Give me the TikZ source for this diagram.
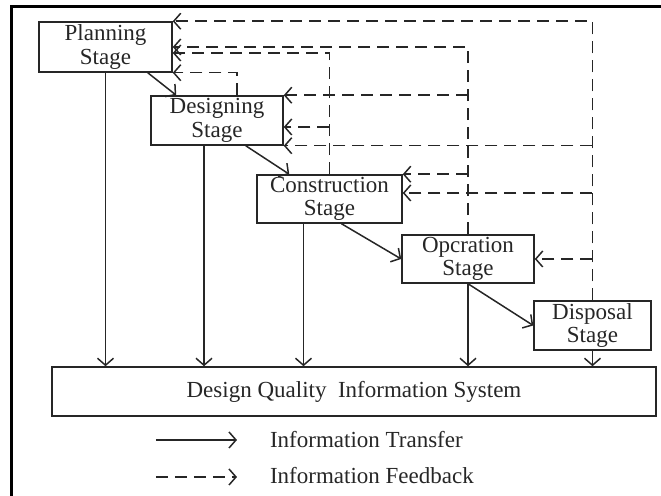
\documentclass[tikz,border=0pt]{standalone}
\usepackage{fontspec}
\setmainfont{Liberation Serif}
\usetikzlibrary{arrows.meta}

\begin{document}
\begin{tikzpicture}[x=0.5pt,y=-0.5pt,
    stage/.style={draw=black!85,line width=0.75pt,align=center,inner sep=1pt,text=black!85,font=\fontsize{11.5}{11.8}\selectfont},
    tr/.style={draw=black!85,line width=0.75pt,-{Straight Barb[length=3.5pt,width=8pt]}},
    fb/.style={tr,dash pattern=on 6pt off 3.5pt},
    legtext/.style={anchor=west,text=black!85,font=\fontsize{11.5}{12}\selectfont}]
            \useasboundingbox (0,0) rectangle (661,496);

            % Frame
            \draw[line width=1.5pt] (12,496) -- (12,7) -- (661,7);

            % Nodes
            \node[stage,minimum width=66.5pt,minimum height=25pt] (plan) at (105.5,47) {Planning\\Stage};
            \node[stage,minimum width=66pt,minimum height=24.5pt] (desg) at (217,120.5) {Designing\\Stage};
            \node[stage,minimum width=72.5pt,minimum height=24pt] (cons) at (329.5,199) {Construction\\Stage};
            \node[stage,minimum width=66pt,minimum height=24pt] (oper) at (468,259) {Opcration\\Stage};
            \node[stage,minimum width=58.5pt,minimum height=23.5pt] (disp) at (592.5,325.5) {Disposal\\Stage};
            \node[stage,minimum width=302pt,minimum height=24.5pt] (dqis) at (354,391.5) {Design Quality~ Information System};

            % Transfer between stages
            \draw[tr] ([xshift=-12.5pt]plan.south east) -- ([xshift=13pt]desg.north west);
            \draw[tr] ([xshift=-19pt]desg.south east) -- ([xshift=16.5pt]cons.north west);
            \draw[tr] ([xshift=6pt]cons.south) -- (oper.west);
            \draw[tr] (oper.south) -- (disp.west);

            % Transfer to the system
            \draw[tr] (plan.south) -- (plan.south |- dqis.north);
            \draw[tr] ([xshift=-6.5pt]desg.south) -- ([xshift=-6.5pt]desg.south |- dqis.north);
            \draw[tr] ([xshift=-13pt]cons.south) -- ([xshift=-13pt]cons.south |- dqis.north);
            \draw[tr] (oper.south) -- (oper.south |- dqis.north);
            \draw[tr] (disp.south) -- (disp.south |- dqis.north);

            % Feedback from disposal
            \draw[fb] (disp.north) |- (plan.north east);
            \draw[fb] (desg.south east -| disp.north) -- (desg.south east);
            \draw[fb] ([yshift=3pt]cons.east -| disp.north) -- ([yshift=3pt]cons.east);
            \draw[fb] (oper.east -| disp.north) -- (oper.east);

            % Feedback from operation
            \draw[fb] (oper.north) |- (plan.east);
            \draw[fb] (desg.north east -| oper.north) -- (desg.north east);
            \draw[fb] (cons.north east -| oper.north) -- (cons.north east);

            % Feedback from construction
            \draw[fb] (cons.north) |- ([yshift=-3pt]plan.east);
            \draw[fb] ([yshift=-3.25pt]desg.east -| cons.north) -- ([yshift=-3.25pt]desg.east);

            % Feedback from designing
            \draw[fb] ([xshift=10pt]desg.north) |- (plan.south east);

            % Legend
            \coordinate (trA) at (156,440);
            \coordinate (trB) at (237,440);
            \coordinate (fbA) at (156,477);
            \coordinate (fbB) at (237,477);
            \draw[tr] (trA) -- (trB);
            \draw[fb] (fbA) -- (fbB);
            \node[legtext] (trtxt) at (263,440) {Information Transfer};
            \node[legtext] (fbtxt) at (263,476) {Information Feedback};
        \end{tikzpicture}
\end{document}
